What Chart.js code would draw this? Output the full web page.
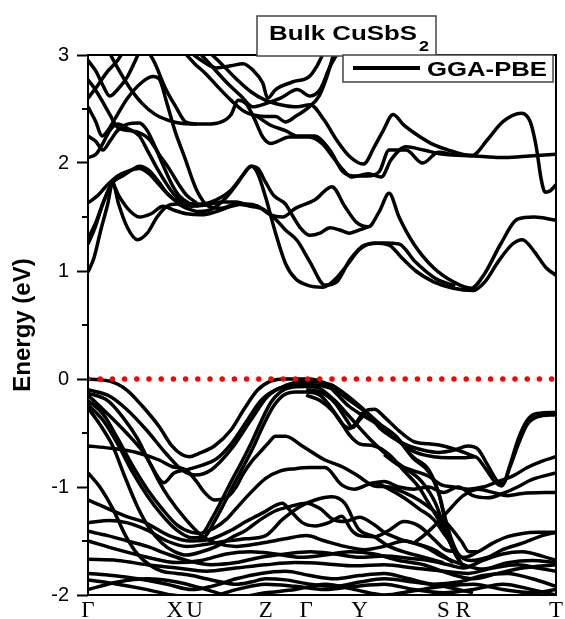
<!DOCTYPE html>
<html>
<head>
<meta charset="utf-8">
<script src="https://cdn.jsdelivr.net/npm/chart.js@4.4.0/dist/chart.umd.min.js"></script>
<style>
  html, body { margin: 0; padding: 0; background: #fff; }
  #wrap { width: 565px; height: 619px; }
</style>
</head>
<body>
<div id="wrap"><canvas id="bands" width="565" height="619"></canvas></div>
<script>
// -----------------------
// DATA (k path in arbitrary units, energy in eV)
// -----------------------

const kTicks = [0, 88, 108, 180, 221, 275, 360, 380, 474];
const kLabels = ['Γ', 'X', 'U', 'Z', 'Γ', 'Y', 'S', 'R', 'T'];
const energyTicks = [-2, -1, 0, 1, 2, 3];
const energyMinor = [-1.5, -0.5, 0.5, 1.5, 2.5];
const fermiLevel = [[0, 0], [470, 0]];

// conduction bands
const cb1 = [[0,0.99],[6,1.12],[13,1.38],[20,1.62],[25,1.82],[31,1.62],[40,1.4],[50,1.29],[60,1.35],[70,1.5],[80,1.6],[90,1.62],[100,1.58],[112,1.55],[125,1.57],[140,1.68],[152,1.82],[160,1.93],[166,1.97],[172,1.9],[180,1.68],[190,1.35],[200,1.07],[210,0.93],[222,0.87],[238,0.85],[250,0.92],[262,1.05],[275,1.2],[290,1.26],[305,1.24],[318,1.12],[332,1.0],[350,0.9],[370,0.84],[390,0.82],[402,0.9],[415,1.08],[430,1.25],[440,1.29],[452,1.18],[464,1.03],[474,0.96]];
const cb2 = [[0,1.25],[7,1.4],[15,1.62],[25,1.8],[31,1.7],[40,1.58],[52,1.5],[64,1.53],[76,1.6],[88,1.56],[100,1.53],[115,1.52],[130,1.55],[145,1.6],[160,1.62],[172,1.6],[185,1.52],[197,1.5],[210,1.58],[230,1.66],[247,1.78],[260,1.6],[272,1.45],[284,1.41],[295,1.55],[305,1.72],[315,1.5],[330,1.25],[350,1.03],[370,0.9],[388,0.84],[402,0.98],[418,1.25],[435,1.48],[452,1.5],[474,1.47]];
const cb3 = [[0,1.3],[8,1.45],[16,1.65],[25,1.82],[35,1.88],[45,1.94],[52,1.97],[62,1.93],[72,1.82],[82,1.7],[92,1.63],[105,1.6],[120,1.61],[135,1.64],[150,1.64],[165,1.6],[178,1.57],[190,1.48],[200,1.38],[212,1.28],[225,1.08],[240,0.87],[252,0.9],[265,1.1],[280,1.24],[300,1.26],[315,1.25],[332,1.08],[352,0.93],[372,0.86]];
const cb4 = [[0,1.63],[10,1.7],[20,1.8],[30,1.88],[42,1.93],[52,1.95],[62,1.9],[72,1.8],[80,1.72],[88,1.66],[100,1.62],[115,1.62],[130,1.66],[145,1.75],[158,1.9],[165,1.97],[172,1.95],[180,1.82],[188,1.7],[200,1.62],[208,1.5],[215,1.4],[225,1.33],[235,1.35],[245,1.4],[255,1.38],[265,1.35],[275,1.38],[284,1.41]];
const cb5 = [[0,2.05],[8,2.08],[15,2.18],[22,2.3],[30,2.36],[40,2.32],[52,2.25],[60,2.12],[70,1.95],[80,1.8],[88,1.7],[96,1.64],[105,1.6]];
const cb6 = [[0,2.25],[8,2.2],[15,2.12],[22,2.2],[30,2.3],[40,2.36],[52,2.37],[60,2.3],[68,2.15],[76,1.98],[84,1.82],[92,1.7],[102,1.63],[112,1.6]];
const cb7 = [[0,2.52],[8,2.38],[14,2.25],[20,2.3],[28,2.42],[40,2.6],[55,2.75],[66,2.8],[72,2.78],[80,2.55],[88,2.3],[98,2.05],[110,1.75],[122,1.6],[135,1.58],[150,1.62],[165,1.6]];
const cb8 = [[0,2.6],[10,2.72],[20,2.85],[30,2.95],[37,3.05]];
const cb9 = [[0,2.77],[6,2.7],[14,2.58],[22,2.45],[30,2.33],[42,2.3],[52,2.28],[62,2.22],[72,2.08],[82,1.95],[92,1.8],[100,1.7],[110,1.63]];
const cb10 = [[20,3.05],[30,2.88],[42,2.7],[55,2.55],[68,2.45],[80,2.4],[92,2.37],[105,2.36],[120,2.36],[135,2.38],[145,2.45],[152,2.58],[160,2.55],[168,2.42],[177,2.24],[185,2.18],[204,2.24],[224,2.24],[237,2.18],[250,2.03],[258,1.94],[267,1.87],[284,1.9],[297,1.87],[307,2.03],[322,2.15],[340,2.12],[360,2.08],[380,2.07],[400,2.06],[420,2.05],[440,2.06],[474,2.08]];
const cb11 = [[95,3.05],[108,2.92],[120,2.82],[132,2.7],[145,2.58],[158,2.48],[170,2.44],[180,2.43],[190,2.43],[200,2.38],[210,2.43],[224,2.52],[234,2.62],[242,2.8],[250,3.05]];
const cb12 = [[100,3.05],[115,2.95],[130,2.88],[145,2.9],[157,2.92],[167,2.86],[177,2.74],[182,2.6],[190,2.68],[207,2.75],[224,2.8],[232,2.9],[240,3.05]];
const cb13 = [[110,3.05],[125,2.9],[140,2.75],[155,2.62],[167,2.52],[180,2.55],[195,2.6],[212,2.68],[225,2.62],[235,2.68],[245,2.89],[255,3.05]];
const cb14 = [[120,3.05],[135,2.92],[150,2.78],[165,2.66],[180,2.58],[195,2.54],[212,2.52],[225,2.54],[239,2.4],[252,2.21],[265,2.06],[279,1.99],[290,2.15],[299,2.3],[309,2.45],[320,2.35],[335,2.25],[350,2.17],[365,2.12],[380,2.08],[389,2.07],[405,2.22],[420,2.38],[439,2.46],[448,2.38],[454,2.15],[459,1.85],[463,1.73],[468,1.74],[474,1.8]];
const cb15 = [[170,2.44],[185,2.35],[200,2.3],[212,2.25],[229,2.25],[245,2.12],[258,1.92],[270,1.88],[283,1.88],[295,1.92],[305,2.12],[322,2.12],[339,2.0],[355,2.1],[370,2.08],[389,2.07]];
const cb16 = [[0,2.95],[8,2.85],[15,2.72],[22,2.62],[30,2.68],[40,2.8],[48,2.95],[53,3.05]];
const cb17 = [[60,3.05],[68,2.92],[78,2.7],[89,2.52],[99,2.38],[110,2.36]];

// valence bands
const vb1 = [[0,0],[22,-0.02],[39,-0.1],[55,-0.25],[72,-0.44],[85,-0.62],[95,-0.7],[103,-0.72],[112,-0.69],[128,-0.62],[145,-0.47],[158,-0.28],[172,-0.1],[185,-0.02],[200,0],[221,0],[232,-0.01],[242,-0.05],[252,-0.14],[264,-0.25],[277,-0.33],[290,-0.4],[304,-0.5],[318,-0.6],[332,-0.68],[350,-0.72],[365,-0.73],[380,-0.73],[392,-0.72],[402,-0.82],[412,-0.95],[419,-0.99],[428,-0.78],[436,-0.55],[445,-0.38],[455,-0.32],[474,-0.31]];
const vb2 = [[0,-0.1],[22,-0.16],[39,-0.28],[59,-0.47],[79,-0.69],[95,-0.84],[109,-0.89],[125,-0.84],[145,-0.65],[165,-0.38],[182,-0.16],[200,-0.06],[221,-0.02],[235,-0.03],[248,-0.06],[262,-0.15],[279,-0.28],[296,-0.42],[312,-0.53],[329,-0.72],[345,-0.84],[355,-1.05],[360,-1.24],[366,-1.45],[372,-1.6],[382,-1.65],[395,-1.6],[410,-1.52],[425,-1.46],[440,-1.43],[455,-1.42],[474,-1.42]];
const vb3 = [[0,-0.13],[20,-0.2],[35,-0.35],[50,-0.55],[64,-0.8],[77,-0.96],[87,-0.87],[100,-0.84],[115,-0.8],[130,-0.74],[145,-0.6],[160,-0.4],[175,-0.2],[190,-0.1],[205,-0.06],[221,-0.05],[235,-0.06],[250,-0.1],[262,-0.18],[280,-0.3],[298,-0.45],[314,-0.56],[330,-0.74],[346,-0.87],[356,-1.08],[361,-1.26],[368,-1.48],[375,-1.62],[388,-1.68],[405,-1.65],[420,-1.58],[440,-1.52],[460,-1.45],[474,-1.42]];
const vb4 = [[221,-0.1],[235,-0.12],[250,-0.22],[262,-0.38],[268,-0.45],[275,-0.38],[282,-0.32],[295,-0.45],[310,-0.55],[325,-0.62],[340,-0.66],[355,-0.68],[370,-0.66],[385,-0.62],[395,-0.65],[405,-0.8],[415,-0.95],[420,-0.97],[428,-0.8],[436,-0.6],[445,-0.42],[455,-0.35],[474,-0.33]];
const vb5 = [[300,-0.7],[315,-0.8],[330,-0.85],[345,-0.9],[358,-0.98],[370,-1.0],[385,-1.02],[400,-1.0],[415,-0.95],[430,-0.9],[445,-0.82],[460,-0.76],[474,-0.72]];
const vb6 = [[290,-0.96],[300,-0.95],[315,-1.0],[330,-1.02],[345,-1.0],[360,-1.05],[375,-1.0],[390,-1.08],[405,-1.1],[420,-1.06],[435,-1.0],[450,-0.93],[474,-0.87]];
const vb7 = [[330,-1.52],[340,-1.45],[352,-1.35],[365,-1.22],[380,-1.08],[395,-1.02],[410,-1.05],[425,-1.08],[440,-1.06],[474,-1.05]];
const vb8 = [[0,-0.2],[15,-0.32],[30,-0.55],[45,-0.8],[60,-1.02],[75,-1.2],[90,-1.35],[105,-1.42],[115,-1.43],[125,-1.3],[135,-1.13],[145,-0.95],[155,-0.78],[165,-0.6],[175,-0.4],[185,-0.22],[195,-0.12],[205,-0.08],[221,-0.07],[235,-0.09],[250,-0.2],[265,-0.35],[285,-0.55],[305,-0.72],[320,-0.82],[338,-0.95],[352,-1.15],[360,-1.35],[366,-1.5],[372,-1.62],[380,-1.73]];
const vb9 = [[0,-0.24],[15,-0.38],[30,-0.6],[45,-0.86],[60,-1.08],[75,-1.26],[90,-1.4],[105,-1.47],[118,-1.46],[128,-1.32],[138,-1.15],[148,-0.97],[158,-0.8],[168,-0.62],[178,-0.42],[188,-0.25],[198,-0.15],[210,-0.12],[221,-0.12],[235,-0.15],[245,-0.25],[255,-0.38],[265,-0.52],[275,-0.6],[290,-0.62],[305,-0.7],[320,-0.85],[335,-1.0],[345,-1.15],[355,-1.3],[365,-1.48],[372,-1.62],[380,-1.74]];
const vb10 = [[0,-0.27],[12,-0.42],[25,-0.62],[38,-0.92],[50,-1.18],[62,-1.38],[75,-1.52],[88,-1.6],[100,-1.63],[115,-1.6],[130,-1.55],[145,-1.47],[160,-1.4],[175,-1.3],[190,-1.22],[205,-1.18],[221,-1.15],[235,-1.2],[248,-1.3],[260,-1.32],[275,-1.28],[290,-1.35],[300,-1.42],[315,-1.48],[330,-1.52],[350,-1.58],[370,-1.7]];
const vb11 = [[0,-0.62],[22,-0.64],[49,-0.68],[72,-0.75],[85,-0.81],[99,-0.84],[110,-0.95],[118,-1.05],[128,-1.12],[140,-1.1],[150,-1.0],[157,-0.88],[166,-0.76],[174,-0.68],[182,-0.6],[190,-0.53],[200,-0.53],[217,-0.62],[240,-0.75],[257,-0.81],[274,-0.9],[290,-0.99],[305,-1.0],[320,-1.05],[335,-1.12],[350,-1.22],[365,-1.35],[378,-1.5],[386,-1.6],[395,-1.6]];
const vb12 = [[0,-0.87],[12,-1.0],[25,-1.2],[38,-1.45],[50,-1.62],[62,-1.72],[75,-1.78],[90,-1.8],[105,-1.82],[120,-1.85],[135,-1.88],[150,-1.9],[165,-1.88],[180,-1.85],[200,-1.86],[225,-1.9],[250,-1.92],[275,-1.88],[300,-1.85],[330,-1.88],[360,-1.92],[390,-1.98]];
const vb13 = [[0,-1.12],[15,-1.18],[38,-1.27],[58,-1.33],[82,-1.45],[105,-1.5],[125,-1.48],[145,-1.4],[160,-1.32],[177,-1.24],[197,-1.15],[204,-1.21],[217,-1.33],[230,-1.36],[244,-1.33],[257,-1.27],[267,-1.4],[275,-1.45],[290,-1.46],[305,-1.4],[320,-1.32],[335,-1.36],[350,-1.48],[362,-1.58],[372,-1.6]];
const vb14 = [[0,-1.33],[22,-1.31],[39,-1.33],[60,-1.4],[80,-1.5],[100,-1.55],[120,-1.53],[140,-1.5],[160,-1.48],[180,-1.45],[197,-1.3],[215,-1.18],[230,-1.12],[247,-1.09],[260,-1.15],[274,-1.39],[290,-1.46],[305,-1.55],[320,-1.6],[340,-1.65],[360,-1.7]];
const vb15 = [[0,-1.41],[20,-1.45],[40,-1.5],[60,-1.55],[80,-1.62],[100,-1.68],[125,-1.72],[150,-1.7],[175,-1.65],[200,-1.62],[225,-1.6],[250,-1.62],[275,-1.65],[300,-1.64],[325,-1.66],[345,-1.68],[365,-1.72],[380,-1.75],[400,-1.68],[420,-1.62],[440,-1.6],[460,-1.64],[474,-1.68]];
const vb16 = [[0,-1.67],[30,-1.68],[60,-1.72],[90,-1.75],[120,-1.78],[150,-1.75],[180,-1.72],[210,-1.7],[240,-1.71],[270,-1.73],[300,-1.72],[330,-1.75],[360,-1.78],[385,-1.8],[410,-1.75],[435,-1.72],[455,-1.75],[474,-1.78]];
const vb17 = [[0,-1.8],[25,-1.82],[50,-1.85],[80,-1.9],[105,-1.95],[125,-1.92],[150,-1.85],[175,-1.8],[200,-1.78],[225,-1.82],[250,-1.85],[275,-1.82],[300,-1.8],[325,-1.85],[350,-1.9],[375,-1.88],[400,-1.82],[425,-1.8],[450,-1.85],[474,-1.92]];
const vb18 = [[0,-1.86],[30,-1.9],[60,-1.95],[85,-2.0],[120,-2.02],[150,-1.95],[180,-1.9],[210,-1.92],[240,-1.95],[270,-1.92],[300,-1.9],[330,-1.95],[360,-1.98],[390,-1.95],[420,-1.9],[450,-1.95],[474,-2.0]];
const vb19 = [[0,-1.95],[30,-1.88],[60,-1.85],[90,-1.88],[120,-1.95],[150,-2.02],[180,-1.98],[210,-1.95],[240,-1.9],[270,-1.95],[300,-2.0],[330,-1.96],[360,-1.92],[390,-1.9],[420,-1.95],[450,-1.98],[474,-1.95]];
const vb20 = [[0,-0.15],[15,-0.28],[39,-0.5],[59,-0.72],[72,-0.95],[82,-1.1],[99,-1.3],[115,-1.45],[130,-1.52],[150,-1.55],[175,-1.52],[200,-1.48],[221,-1.45],[240,-1.5],[260,-1.55],[280,-1.58],[300,-1.55],[320,-1.5],[340,-1.55],[360,-1.65],[380,-1.72],[400,-1.76],[425,-1.7],[450,-1.68],[474,-1.7]];
const vb21 = [[115,-1.43],[128,-1.38],[140,-1.3],[150,-1.2],[165,-1.05],[180,-0.92],[195,-0.85],[210,-0.83],[225,-0.82],[240,-0.82],[257,-0.98],[270,-1.02],[290,-0.96],[305,-1.02],[320,-1.1],[335,-1.2],[350,-1.3],[362,-1.45],[372,-1.58]];
const vb22 = [[221,-0.15],[235,-0.2],[248,-0.3],[258,-0.42],[265,-0.46],[272,-0.4],[280,-0.3],[290,-0.28],[300,-0.35],[315,-0.48],[330,-0.58],[345,-0.6],[360,-0.62],[375,-0.66],[392,-0.72]];
const vb23 = [[0,-1.5],[30,-1.58],[60,-1.65],[90,-1.7],[115,-1.68],[140,-1.62],[165,-1.6],[190,-1.62],[215,-1.65],[240,-1.63],[265,-1.6],[290,-1.62],[315,-1.68],[340,-1.72],[365,-1.8],[390,-1.85],[415,-1.8],[440,-1.75],[474,-1.72]];

const conductionBands = [cb1, cb2, cb3, cb4, cb5, cb6, cb7, cb8, cb9, cb10, cb11, cb12, cb13, cb14, cb15, cb16, cb17];
const valenceBands = [vb1, vb2, vb3, vb4, vb5, vb6, vb7, vb8, vb9, vb10, vb11, vb12, vb13, vb14, vb15, vb16, vb17, vb18, vb19, vb20, vb21, vb22, vb23];

// -----------------------
// DATASETS
// -----------------------

function bandSet(points) {
    return {
        data: points.map(p => ({ x: p[0], y: p[1] })),
        showLine: true,
        borderColor: '#000',
        borderWidth: 3.5,
        pointRadius: 0,
        cubicInterpolationMode: 'monotone',
        clip: 0,
        fill: false
    };
}

const datasets = [{
    data: fermiLevel.map(p => ({ x: p[0], y: p[1] })),
    showLine: true,
    borderColor: '#ff0000',
    borderWidth: 5.5,
    borderDash: [0, 12.2],
    borderCapStyle: 'round',
    pointRadius: 0,
    clip: 0
}];
conductionBands.concat(valenceBands).forEach(b => datasets.push(bandSet(b)));

// -----------------------
// DECORATION (frame, minor ticks, title box, legend box)
// -----------------------

function stretchedText(ctx, text, x, y, width) {
    const w = ctx.measureText(text).width;
    ctx.save();
    ctx.translate(x, y);
    ctx.scale(width / w, 1);
    ctx.fillText(text, 0, 0);
    ctx.restore();
}

const decor = {
    id: 'decor',
    afterDraw(chart) {
        const ctx = chart.ctx;
        const a = chart.chartArea;
        const ys = chart.scales.y;
        ctx.save();

        // frame
        ctx.strokeStyle = '#000';
        ctx.lineWidth = 2;
        ctx.strokeRect(a.left, a.top, a.right - a.left, a.bottom - a.top);

        // minor ticks
        energyMinor.forEach(v => {
            const y = ys.getPixelForValue(v);
            ctx.beginPath();
            ctx.moveTo(a.left - 6, y);
            ctx.lineTo(a.left, y);
            ctx.stroke();
        });

        // title box
        ctx.fillStyle = '#fff';
        ctx.fillRect(257, 16, 179, 40);
        ctx.strokeStyle = '#444';
        ctx.lineWidth = 1.5;
        ctx.strokeRect(257, 16, 179, 40);
        ctx.fillStyle = '#000';
        ctx.textBaseline = 'alphabetic';
        ctx.textAlign = 'left';
        ctx.font = 'bold 21px "Liberation Sans", Arial, sans-serif';
        stretchedText(ctx, 'Bulk CuSbS', 269, 40, 148);
        ctx.font = 'bold 14px "Liberation Sans", Arial, sans-serif';
        stretchedText(ctx, '2', 419, 51, 10);

        // legend box
        ctx.fillStyle = '#fff';
        ctx.fillRect(343, 55, 210, 27);
        ctx.strokeStyle = '#444';
        ctx.lineWidth = 1.5;
        ctx.strokeRect(343, 55, 210, 27);
        ctx.strokeStyle = '#000';
        ctx.lineWidth = 4;
        ctx.beginPath();
        ctx.moveTo(353, 68);
        ctx.lineTo(420, 68);
        ctx.stroke();
        ctx.fillStyle = '#000';
        ctx.font = 'bold 21px "Liberation Sans", Arial, sans-serif';
        stretchedText(ctx, 'GGA-PBE', 427, 76, 120);

        ctx.restore();
    }
};

// -----------------------
// CHART
// -----------------------

const ctx = document.getElementById('bands').getContext('2d');

new Chart(ctx, {
    type: 'scatter',
    data: { datasets: datasets },
    options: {
        responsive: false,
        animation: false,
        layout: { padding: { top: 55, right: 3, left: 0, bottom: 0 } },
        plugins: {
            legend: { display: false },
            tooltip: { enabled: false }
        },
        scales: {
            x: {
                type: 'linear',
                min: 0,
                max: 474,
                afterFit: s => { s.height = 24; },
                afterBuildTicks: s => { s.ticks = kTicks.map(v => ({ value: v })); },
                border: { display: false },
                grid: { display: false, drawTicks: false },
                ticks: {
                    autoSkip: false,
                    maxRotation: 0,
                    padding: 2,
                    color: '#000',
                    font: { family: '"Liberation Serif", "Times New Roman", serif', size: 23 },
                    callback: (v, i) => kLabels[i]
                }
            },
            y: {
                min: -2,
                max: 3,
                afterFit: s => { s.width = 88; },
                afterBuildTicks: s => { s.ticks = energyTicks.map(v => ({ value: v })); },
                border: { display: false },
                grid: {
                    drawOnChartArea: false,
                    drawTicks: true,
                    tickLength: 11,
                    tickColor: '#000',
                    tickWidth: 2
                },
                ticks: {
                    padding: 8,
                    color: '#000',
                    font: { family: '"Liberation Sans", Arial, sans-serif', size: 20 },
                    callback: v => String(v)
                },
                title: {
                    display: true,
                    text: 'Energy (eV)',
                    color: '#000',
                    font: { family: '"Liberation Sans", Arial, sans-serif', size: 24, weight: 'bold' },
                    padding: { top: 9, bottom: 0 }
                }
            }
        }
    },
    plugins: [decor]
});
</script>
</body>
</html>
